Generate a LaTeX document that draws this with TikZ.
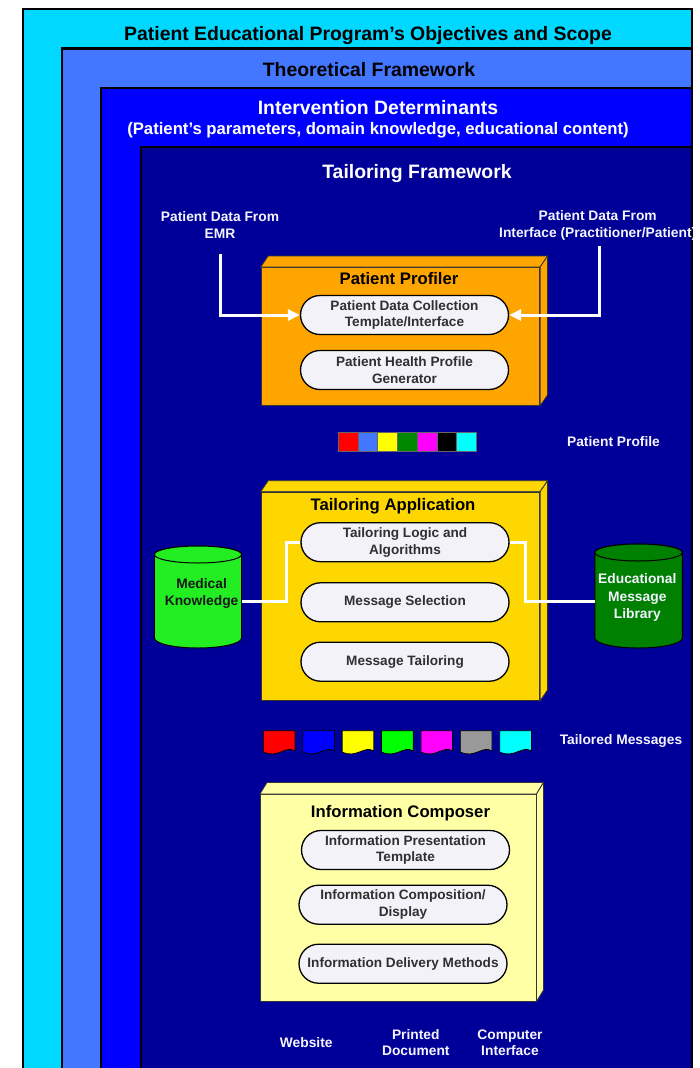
\documentclass[tikz,border=0pt]{standalone}
\usepackage{fontspec}
\setmainfont{Liberation Sans}
\usetikzlibrary{calc,arrows.meta}

\definecolor{scopecyan}{HTML}{00D8FF}
\definecolor{theorblue}{HTML}{4477FF}
\definecolor{intblue}{HTML}{0000FF}
\definecolor{tailnavy}{HTML}{000099}
\definecolor{proforange}{HTML}{FFA500}
\definecolor{appgold}{HTML}{FFD700}
\definecolor{compyellow}{HTML}{FFFFA6}
\definecolor{pillfill}{HTML}{F2F2F8}
\definecolor{pilltext}{HTML}{303030}
\definecolor{medgreen}{HTML}{22EE22}
\definecolor{libgreen}{HTML}{008000}
\definecolor{labelwhite}{HTML}{F4F4FF}
\definecolor{profblue}{HTML}{4477FF}
\definecolor{profgreen}{HTML}{008800}
\definecolor{swred}{HTML}{FF0000}
\definecolor{swyellow}{HTML}{FFFF00}
\definecolor{swgreen}{HTML}{00FF00}
\definecolor{swmagenta}{HTML}{FF00FF}
\definecolor{swcyan}{HTML}{00FFFF}
\definecolor{swgray}{HTML}{999999}

\tikzset{
  frame/.style={draw=black, line width=2.3pt},
  heading/.style={font=\fontsize{19.4}{23}\selectfont\bfseries, inner sep=0},
  subhead/.style={font=\fontsize{16.7}{20}\selectfont\bfseries, inner sep=0},
  boxtitle/.style={font=\fontsize{16.7}{20}\selectfont\bfseries, inner sep=0, text=black},
  face/.style={draw=black!80, line width=0.8pt},
  pill/.style={draw=black, line width=1.3pt, fill=pillfill, rounded corners=19.5pt,
    minimum width=208pt, minimum height=39pt, inner sep=0, align=center,
    font=\fontsize{13.6}{16.7}\selectfont\bfseries, text=pilltext},
  lbl/.style={font=\fontsize{13.8}{16.7}\selectfont\bfseries, text=labelwhite,
    align=center, inner sep=0},
  drum/.style={draw=black, line width=1pt},
  sq/.style={draw=black!60, line width=0.6pt, minimum size=19.7pt, inner sep=0},
  msgdoc/.style={draw=black, line width=0.8pt},
  link/.style={draw=white, line width=3pt},
  arrowlink/.style={link, -{Triangle[length=12pt, width=11pt]}}
}

\begin{document}
\begin{tikzpicture}[x=1pt, y=-1pt]
\useasboundingbox (0,0) rectangle (700,1068);
\fill[white] (0,0) rectangle (700,1068);
\clip (0,0) rectangle (700,1068);

% nested framework layers
\draw[frame, fill=scopecyan] (23,9) rectangle (692,1090);
\draw[frame, fill=theorblue] (62,48.5) rectangle (692,1090);
\draw[frame, fill=intblue] (101,88) rectangle (692,1090);
\draw[frame, fill=tailnavy] (141,147) rectangle (692,1090);

\node[heading, text=black] (scope) at (368,36) {Patient Educational Program's Objectives and Scope};
\node[heading, text=black] (theory) at (369,69.5) {Theoretical Framework};
\node[heading, text=white] (determ) at (378,108) {Intervention Determinants};
\node[subhead, text=white] (determsub) at (378,130) {(Patient's parameters, domain knowledge, educational content)};
\node[heading, text=white] (tailfw) at (417,174) {Tailoring Framework};

% data sources
\node[lbl] (emr) at (220,225.2) {Patient Data From\\EMR};
\node[lbl] (ui) at (597.7,225.2) {Patient Data From\\Interface (Practitioner/Patient)};
\coordinate (emrfoot) at (220,254);
\coordinate (uifoot) at (599.5,246);

% Patient Profiler box
\node[face, fill=proforange, minimum width=278.6pt, minimum height=138pt, inner sep=0, anchor=north west] (pp) at (260.7,267) {};
\draw[face, fill=proforange] (pp.north west) -- ++(7.5,-11) -- ($(pp.north east)+(7.5,-11)$) -- (pp.north east) -- cycle;
\draw[face, fill=proforange] (pp.north east) -- ++(7.5,-11) -- ($(pp.south east)+(7.5,-11)$) -- (pp.south east) -- cycle;
\node[boxtitle] (pptitle) at (399,278.3) {Patient Profiler};
\node[pill] (pdc) at (404.5,315) {Patient Data Collection\\Template/Interface};
\node[pill] (php) at (404.5,370) {Patient Health Profile\\Generator};

\draw[arrowlink] (emrfoot) |- (pdc.west);
\draw[arrowlink] (uifoot) |- (pdc.east);

% patient profile swatches
\foreach \c [count=\i] in {swred,profblue,swyellow,profgreen,swmagenta,black,swcyan}
  \node[sq, fill=\c] (sw\i) at ({348.15+(\i-1)*19.7},441.7) {};
\node[lbl] (profile) at (613.5,442) {Patient Profile};

% Tailoring Application box
\node[face, fill=appgold, minimum width=278.6pt, minimum height=208.3pt, inner sep=0, anchor=north west] (ta) at (260.7,491.7) {};
\draw[face, fill=appgold] (ta.north west) -- ++(7.5,-11) -- ($(ta.north east)+(7.5,-11)$) -- (ta.north east) -- cycle;
\draw[face, fill=appgold] (ta.north east) -- ++(7.5,-11) -- ($(ta.south east)+(7.5,-11)$) -- (ta.south east) -- cycle;
\node[boxtitle] (tatitle) at (393,506) {Tailoring Application};
\node[pill] (tlogic) at (405,542.2) {Tailoring Logic and\\Algorithms};
\node[pill] (msel) at (405,602.3) {Message Selection};
\node[pill] (mtail) at (405,661.7) {Message Tailoring};

% knowledge stores
\node[inner sep=0, minimum width=87.2pt, minimum height=102pt, anchor=north west] (mkcyl) at (154.4,546) {};
\path[drum, fill=medgreen] (154.4,554.5) -- (154.4,638)
  arc[start angle=180, end angle=0, x radius=43.6, y radius=10] -- (241.6,554.5)
  arc[start angle=0, end angle=-180, x radius=43.6, y radius=8.5] -- cycle;
\draw[drum, fill=medgreen] (198,554.5) ellipse[x radius=43.6, y radius=8.5];
\node[lbl, text=black!90] (mk) at (201.6,593.7) {Medical\\Knowledge};

\node[inner sep=0, minimum width=87.5pt, minimum height=104pt, anchor=north west] (emlcyl) at (594.8,544) {};
\path[drum, fill=libgreen] (594.8,552.5) -- (594.8,638)
  arc[start angle=180, end angle=0, x radius=43.75, y radius=10] -- (682.3,552.5)
  arc[start angle=0, end angle=-180, x radius=43.75, y radius=8.5] -- cycle;
\draw[drum, fill=libgreen] (638.55,552.5) ellipse[x radius=43.75, y radius=8.5];
\node[lbl, font=\fontsize{13.8}{17.5}\selectfont\bfseries] (eml) at (637.3,597.7) {Educational\\Message\\Library};

\draw[link] ($(mkcyl.east)+(0,4.7)$) -- ++(44.4,0) |- (tlogic.west);
\draw[link] (tlogic.east) -- ++(15.5,0) |- ($(emlcyl.west)+(0,5.7)$);

% tailored message documents
\foreach \c [count=\i] in {swred,intblue,swyellow,swgreen,swmagenta,swgray,swcyan}{
  \pgfmathsetmacro{\xa}{263.3+(\i-1)*39.4}
  \draw[msgdoc, fill=\c] (\xa,730.7) -- ++(31.7,0) -- ++(0,20.3)
    .. controls ++(-9.5,-6) and ($(\xa,752)+(14.3,7)$) .. (\xa,752) -- cycle;
}
\node[lbl] (tmsg) at (621,741) {Tailored Messages};

% Information Composer box
\node[face, fill=compyellow, minimum width=275.7pt, minimum height=206.7pt, inner sep=0, anchor=north west] (ic) at (260,794) {};
\draw[face, fill=compyellow] (ic.north west) -- ++(7,-11.5) -- ($(ic.north east)+(7,-11.5)$) -- (ic.north east) -- cycle;
\draw[face, fill=compyellow] (ic.north east) -- ++(7,-11.5) -- ($(ic.south east)+(7,-11.5)$) -- (ic.south east) -- cycle;
\node[boxtitle] (ictitle) at (400.5,813.3) {Information Composer};
\node[pill] (ipt) at (405.5,850) {Information Presentation\\Template};
\node[pill] (icd) at (403,904.7) {Information Composition/\\Display};
\node[pill] (idm) at (403,963.7) {Information Delivery Methods};

% delivery channels
\node[lbl] (web) at (306.2,1042.7) {Website};
\node[lbl] (print) at (415.8,1042.7) {Printed\\Document};
\node[lbl] (comp) at (510,1042.7) {Computer\\Interface};

\end{tikzpicture}
\end{document}
